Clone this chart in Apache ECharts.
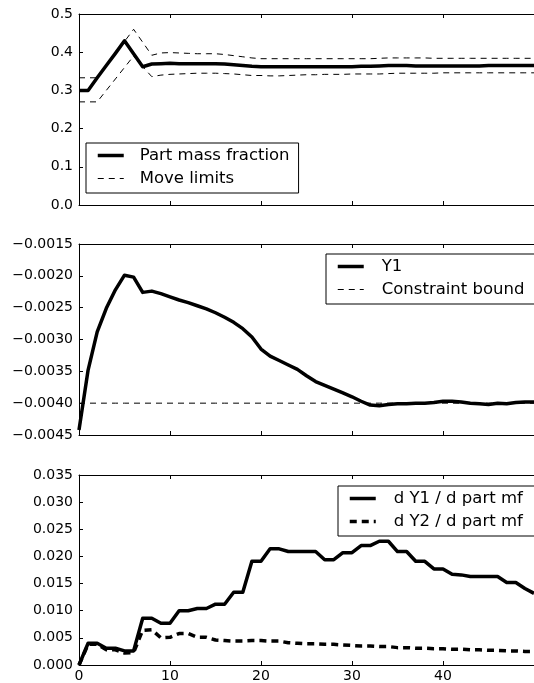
<!DOCTYPE html>
<html>
<head>
<meta charset="utf-8">
<script src="https://cdn.jsdelivr.net/npm/echarts@6/dist/echarts.min.js"></script>
<style>
html,body{margin:0;padding:0;background:#fff;}
#chart{width:534px;height:683px;}
</style>
</head>
<body>
<div id="chart"></div>
<script>
// ---- data (iterations 0..50) ----
const partMassFraction = [0.300,0.300,0.333,0.365,0.397,0.430,0.396,0.362,0.369,0.370,
  0.371,0.370,0.370,0.370,0.370,0.370,0.369,0.367,0.365,0.363,
  0.362,0.362,0.362,0.362,0.362,0.362,0.362,0.362,0.362,0.362,
  0.362,0.363,0.363,0.364,0.365,0.365,0.365,0.364,0.364,0.364,
  0.364,0.364,0.364,0.364,0.364,0.365,0.365,0.365,0.365,0.365,0.365];
const moveLimitUpper = [0.333,0.333,0.333,0.365,0.397,0.428,0.460,0.426,0.392,0.398,
  0.399,0.398,0.397,0.396,0.396,0.396,0.394,0.391,0.388,0.385,
  0.383,0.383,0.383,0.383,0.383,0.383,0.383,0.383,0.383,0.383,
  0.383,0.383,0.383,0.384,0.385,0.385,0.385,0.385,0.385,0.384,
  0.384,0.384,0.384,0.384,0.384,0.384,0.384,0.384,0.384,0.384,0.384];
const moveLimitLower = [0.270,0.270,0.270,0.300,0.330,0.360,0.390,0.362,0.336,0.340,
  0.342,0.343,0.344,0.345,0.345,0.345,0.344,0.343,0.341,0.339,
  0.339,0.338,0.338,0.339,0.340,0.341,0.341,0.342,0.342,0.342,
  0.343,0.343,0.343,0.343,0.344,0.345,0.345,0.345,0.345,0.345,
  0.346,0.346,0.346,0.346,0.346,0.346,0.346,0.346,0.346,0.346,0.346];
const y1Values = [-0.00442,-0.00348,-0.00288,-0.00251,-0.00222,-0.00199,-0.00202,-0.00226,-0.00224,-0.00228,
  -0.00233,-0.00238,-0.00242,-0.00247,-0.00252,-0.00258,-0.00265,-0.00273,-0.00283,-0.00296,
  -0.00315,-0.00326,-0.00333,-0.00340,-0.00347,-0.00357,-0.00366,-0.00372,-0.00378,-0.00384,
  -0.00390,-0.00397,-0.00403,-0.00404,-0.00402,-0.00401,-0.00401,-0.00400,-0.00400,-0.00399,
  -0.00397,-0.00397,-0.00398,-0.00400,-0.00401,-0.00402,-0.00400,-0.00401,-0.00399,-0.00398,-0.00398];
const constraintBound = -0.004;
const dY1 = [0.0000,0.0040,0.0040,0.0031,0.0031,0.0026,0.0026,0.0086,0.0086,0.0077,
  0.0077,0.0100,0.0100,0.0104,0.0104,0.0112,0.0112,0.0134,0.0134,0.0191,
  0.0191,0.0214,0.0214,0.0209,0.0209,0.0209,0.0209,0.0194,0.0194,0.0207,
  0.0207,0.0220,0.0220,0.0228,0.0228,0.0209,0.0209,0.0191,0.0191,0.0177,
  0.0177,0.0167,0.0166,0.0163,0.0163,0.0163,0.0163,0.0152,0.0152,0.0141,0.0132];
const dY2 = [0.0000,0.0038,0.0038,0.0028,0.0028,0.0022,0.0023,0.0064,0.0065,0.0050,
  0.0051,0.0058,0.0058,0.0051,0.0051,0.0046,0.0045,0.0044,0.0044,0.0045,
  0.0045,0.0044,0.0044,0.0041,0.0040,0.0039,0.0039,0.0038,0.0038,0.0037,
  0.0036,0.0035,0.0035,0.0034,0.0034,0.0032,0.0032,0.0031,0.0031,0.0030,
  0.0030,0.0029,0.0029,0.0028,0.0028,0.0027,0.0027,0.0026,0.0026,0.0025,0.0025];
const xTicks = [0, 10, 20, 30, 40, 50];
const yTicks1 = [0.0, 0.5, 0.1];       // min, max, step
const yTicks2 = [-0.0045, -0.0015, 0.0005];
const yTicks3 = [0.000, 0.035, 0.005];
const legend1 = ['Part mass fraction', 'Move limits'];
const legend2 = ['Y1', 'Constraint bound'];
const legend3 = ['d Y1 / d part mf', 'd Y2 / d part mf'];

const iterations = partMassFraction.map((_, i) => i);
const pairs = arr => arr.map((v, i) => [iterations[i], v]);

const FONT = 'DejaVu Sans';
const minus = s => s.replace('-', '\u2212');
const gridTops = [14, 244, 475];
const grids = gridTops.map(t => ({left: 79, top: t, width: 460, height: 191}));

const xAxes = [];
[0,1,2].forEach(g => {
  xAxes.push({
    type: 'value', gridIndex: g, position: 'bottom', min: xTicks[0], max: xTicks[xTicks.length-1], interval: 10,
    axisLine: {onZero: false, lineStyle: {color: '#000', width: 1}},
    axisTick: {inside: true, length: 4, lineStyle: {color: '#000'}},
    axisLabel: {show: g === 2, showMaxLabel: false, color: '#000', fontFamily: FONT, fontSize: 14, margin: 4},
    splitLine: {show: false}
  });
  xAxes.push({
    type: 'value', gridIndex: g, position: 'top', min: xTicks[0], max: xTicks[xTicks.length-1], interval: 10,
    axisLine: {onZero: false, lineStyle: {color: '#000', width: 1}},
    axisTick: {inside: true, length: 4, lineStyle: {color: '#000'}},
    axisLabel: {show: false},
    splitLine: {show: false}
  });
});
const yCfg = [yTicks1, yTicks2, yTicks3];
const yDec = [1, 4, 3];
const yAxes = yCfg.map((t, g) => ({
  type: 'value', gridIndex: g, min: t[0], max: t[1], interval: t[2],
  axisLine: {onZero: false, lineStyle: {color: '#000', width: 1}},
  axisTick: {inside: true, length: 4, lineStyle: {color: '#000'}},
  axisLabel: {color: '#000', fontFamily: FONT, fontSize: 14, margin: 6,
    formatter: v => minus(Number(v).toFixed(yDec[g]))},
  splitLine: {show: false}
}));

const thick = 3.5;
const blk = {color: '#000', opacity: 1};
const series = [
  {name: legend1[0], type: 'line', xAxisIndex: 0, yAxisIndex: 0, data: pairs(partMassFraction),
   symbol: 'none', itemStyle: blk, lineStyle: {color: '#000', width: thick, join: 'round'}, z: 3},
  {name: legend1[1], type: 'line', xAxisIndex: 0, yAxisIndex: 0, data: pairs(moveLimitUpper),
   symbol: 'none', itemStyle: blk, lineStyle: {color: '#000', width: 1, type: [6, 5]}, z: 2},
  {name: legend1[1], type: 'line', xAxisIndex: 0, yAxisIndex: 0, data: pairs(moveLimitLower),
   symbol: 'none', itemStyle: blk, lineStyle: {color: '#000', width: 1, type: [6, 5]}, z: 2},
  {name: legend2[0], type: 'line', xAxisIndex: 2, yAxisIndex: 1, data: pairs(y1Values),
   symbol: 'none', itemStyle: blk, lineStyle: {color: '#000', width: thick, join: 'round'}, z: 3},
  {name: legend2[1], type: 'line', xAxisIndex: 2, yAxisIndex: 1,
   data: iterations.map(i => [i, constraintBound]),
   symbol: 'none', itemStyle: blk, lineStyle: {color: '#000', width: 1, type: [6, 5]}, z: 2},
  {name: legend3[0], type: 'line', xAxisIndex: 4, yAxisIndex: 2, data: pairs(dY1),
   symbol: 'none', itemStyle: blk, lineStyle: {color: '#000', width: thick, join: 'round'}, z: 3},
  {name: legend3[1], type: 'line', xAxisIndex: 4, yAxisIndex: 2, data: pairs(dY2),
   symbol: 'none', itemStyle: blk, lineStyle: {color: '#000', width: thick, type: [7, 5]}, z: 2}
];

const LFS = 16.5;
function mkLegend(names, left, top, padRight, textPad, styles) {
  return {
    orient: 'vertical', left: left, top: top,
    itemWidth: 26, itemHeight: 14, itemGap: 6,
    padding: [4, padRight, 6, 10],
    borderColor: '#000', borderWidth: 1, borderRadius: 0, backgroundColor: '#fff',
    formatter: '{t|{name}}',
    textStyle: {color: '#000', fontFamily: FONT, fontSize: LFS,
      rich: {t: {color: '#000', fontFamily: FONT, fontSize: LFS, lineHeight: 19, padding: [0, 0, 0, textPad]}}},
    data: names.map((n, i) => ({
      name: n,
      itemStyle: {opacity: 0, borderWidth: 0},
      lineStyle: {color: '#000', width: styles[i].w, type: styles[i].t}
    }))
  };
}
const legends = [
  mkLegend(legend1, 86, 143, 9, 11, [{w: thick, t: 'solid'}, {w: 1, t: [6, 5]}]),
  mkLegend(legend2, 326, 254, 45, 13, [{w: thick, t: 'solid'}, {w: 1, t: [6, 5]}]),
  mkLegend(legend3, 338, 486, 45, 13, [{w: thick, t: 'solid'}, {w: thick, t: [7, 5]}])
];

const chart = echarts.init(document.getElementById('chart'), null, {renderer: 'canvas'});
chart.setOption({
  animation: false,
  backgroundColor: '#fff',
  grid: grids,
  xAxis: xAxes,
  yAxis: yAxes,
  legend: legends,
  series: series
});
</script>
</body>
</html>
